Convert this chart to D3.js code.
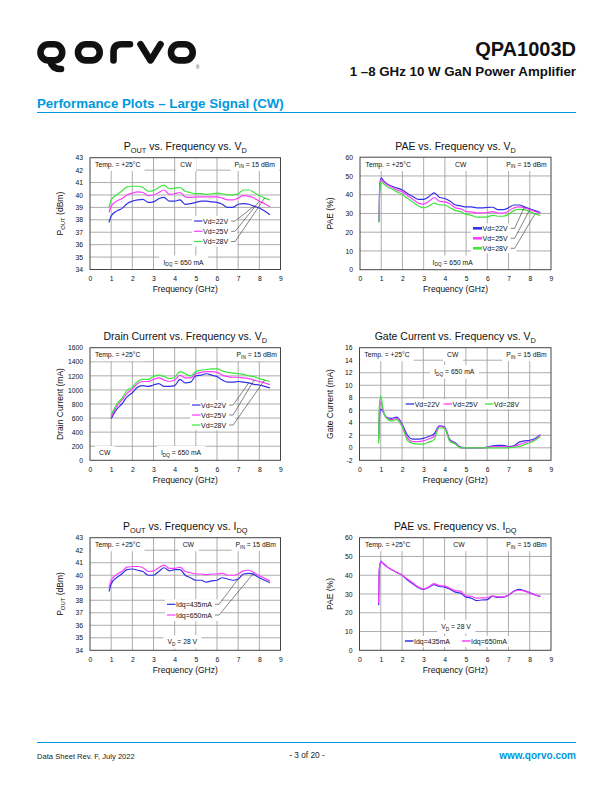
<!DOCTYPE html>
<html><head><meta charset="utf-8">
<script src="https://cdn.jsdelivr.net/npm/d3@7"></script>
<style>body{margin:0;background:#fff}svg{display:block}</style>
</head><body>
<svg id="page" width="612" height="792"></svg>
<script>
// ---------- DATA ----------
const xTicks = [0,1,2,3,4,5,6,7,8,9];
const ticksPout = [34,35,36,37,38,39,40,41,42,43];
const ticksPae = [0,10,20,30,40,50,60];
const ticksDrain = [0,200,400,600,800,1000,1200,1400,1600];
const ticksGate = [-2,0,2,4,6,8,10,12,14,16];

const freqA = [0.9,1.0,1.25,1.5,1.75,2.0,2.25,2.5,2.75,3.0,3.25,3.5,3.75,4.0,4.25,4.5,4.75,5.0,5.25,5.5,5.75,6.0,6.25,6.5,6.75,7.0,7.25,7.5,7.75,8.0,8.25,8.5];
const freqD = [1.0,1.25,1.5,1.75,2.0,2.25,2.5,2.75,3.0,3.25,3.5,3.75,4.0,4.25,4.5,4.75,5.0,5.25,5.5,5.75,6.0,6.25,6.5,6.75,7.0,7.25,7.5,7.75,8.0,8.25,8.5];
const freqB = [0.9,0.93,1.0,1.1,1.25,1.5,1.75,2.0,2.25,2.5,2.75,3.0,3.25,3.5,3.75,4.0,4.25,4.5,4.75,5.0,5.25,5.5,5.75,6.0,6.25,6.5,6.75,7.0,7.25,7.5,7.75,8.0,8.25,8.5];

// Pout vs Vd (dBm)
const poutVd22 = [37.8,38.3,38.7,38.9,39.3,39.5,39.6,39.65,39.4,39.45,39.7,39.8,39.5,39.5,39.6,39.25,39.3,39.4,39.5,39.5,39.45,39.4,39.25,39.0,39.0,39.25,39.3,39.25,39.1,38.95,38.7,38.4];
const poutVd25 = [38.6,39.1,39.5,39.7,40.0,40.15,40.25,40.2,39.95,40.0,40.2,40.4,40.05,40.1,40.2,39.85,39.8,39.85,39.85,39.85,39.85,39.85,39.75,39.6,39.6,39.75,39.95,39.9,39.75,39.5,39.3,39.05];
const poutVd28 = [39.0,39.6,40.0,40.3,40.65,40.7,40.7,40.6,40.3,40.35,40.6,40.8,40.5,40.55,40.6,40.3,40.2,40.1,40.1,40.05,40.1,40.15,40.1,40.0,40.0,40.1,40.4,40.4,40.2,39.95,39.75,39.6];

// PAE vs Vd (%)
const paeVd22 = [26,45,49,47.5,46,44.5,43.5,42.5,40.5,39,37.5,37.5,39,41,38.5,38,36.5,34.5,34,33.5,33.5,33,33,33.2,33.3,32,32,33,34.5,34.5,33.5,32.5,31.5,30.5];
const paeVd25 = [25.5,44,48,47,45.5,44,42.5,41.5,39.5,37.5,35.5,35,36.5,38.5,36.5,36.2,35,33,32.5,31,30.8,30.3,30.3,30.5,31,30.2,30.2,31.2,33,33.5,33,32,31,30];
const paeVd28 = [25,42,47,46,44.5,43,41.5,40,38,36,34,33,34,35.5,34.5,34.5,33,31.5,31,29.5,29,28,28,28.2,29,28.5,28.5,29.5,31.5,32.2,32,31,29.8,29];

// Drain current vs Vd (mA)
const drainVd22 = [590,720,800,900,960,1040,1060,1050,1070,1090,1050,1050,1060,1150,1100,1110,1200,1210,1230,1210,1190,1140,1110,1110,1120,1110,1100,1080,1070,1050,1030];
const drainVd25 = [620,760,850,950,1010,1090,1120,1120,1150,1170,1140,1120,1140,1210,1170,1170,1230,1250,1260,1260,1250,1210,1190,1180,1180,1170,1160,1140,1120,1100,1075];
const drainVd28 = [650,790,880,990,1040,1120,1150,1150,1190,1210,1190,1160,1180,1260,1230,1200,1260,1280,1290,1300,1300,1270,1250,1240,1230,1220,1200,1190,1160,1140,1120];

// Gate current vs Vd (mA)
const gateVd22 = [1.5,4.5,6.2,5.8,4.9,4.7,4.9,3.8,2.0,1.4,1.4,1.5,1.8,2.2,3.5,3.3,1.3,0.8,0.1,0,0,0,0,0.1,0.3,0.4,0.4,0.2,0.3,0.9,1.1,1.2,1.5,2.1];
const gateVd25 = [1.0,5.5,7.4,6.0,4.9,4.5,4.7,3.6,1.6,1.0,1.0,1.1,1.4,1.8,3.4,3.2,1.1,0.7,0,0,0,0,0,0,0.2,0.2,0.2,0.1,0.2,0.5,0.8,1.0,1.3,2.0];
const gateVd28 = [0.7,6.5,8.3,6.3,4.8,4.3,4.5,3.4,1.2,0.7,0.6,0.6,0.9,1.3,3.2,3.1,1.0,0.6,0,0,0,0,0,0,0,0,0,0,0.1,0.2,0.5,0.8,1.2,1.8];

// Pout vs Idq (dBm)
const poutIdq435 = [38.7,39.3,39.8,40.1,40.45,40.5,40.4,40.3,40.0,40.0,40.3,40.6,40.35,40.45,40.45,40.0,39.8,39.6,39.6,39.45,39.55,39.6,39.8,39.7,39.6,39.7,40.1,40.15,40.05,39.8,39.6,39.4];
const poutIdq650 = [39.0,39.6,40.05,40.3,40.65,40.7,40.7,40.6,40.3,40.35,40.6,40.8,40.55,40.55,40.65,40.3,40.2,40.1,40.1,40.05,40.1,40.1,40.15,40.0,40.0,40.1,40.35,40.4,40.2,39.95,39.75,39.55];

// PAE vs Idq (%)
const paeIdq435 = [24,42,47.5,46.5,45,43,41.5,40,37.5,35.5,33.5,32.5,33.5,35,34,33.7,32.5,31,30.5,28.3,27.8,26.5,26.8,27,28.8,28.2,28.3,29.3,31.5,32.5,31.8,30.8,29.5,28.7];
const paeIdq650 = [25,43,47.2,46.3,44.8,43,41.5,40,38,36,33.8,32.7,33.8,35.5,34.5,34.3,33,31.8,31.5,29,28.8,27.8,27.9,28,29,28.5,28.5,29.5,31.3,32,31.5,30.5,29.5,28.8];

const vdNames = ["Vd=22V","Vd=25V","Vd=28V"];
const idqNames = ["Idq=435mA","Idq=650mA"];

// ---------- STYLE ----------
const FONT = '"Liberation Sans", Arial, Helvetica, sans-serif';
const BLUE = "#3232e6", MAG = "#ff3cff", GRN = "#3ce63c";
const QBLUE = "#0099dd";
const GRID = "#a3a3a3";

const svg = d3.select("#page").attr("font-family", FONT);

// rich text with subscripts: parts are strings or [subString]
function rich(t, parts, fs) {
  let shifted = false;
  parts.forEach(p => {
    if (Array.isArray(p)) {
      t.append("tspan").attr("font-size", fs * 0.7).attr("dy", shifted ? 0 : fs * 0.28).text(p[0]);
      shifted = true;
    } else {
      t.append("tspan").attr("dy", shifted ? -fs * 0.28 : 0).text(p);
      shifted = false;
    }
  });
}

// ---------- HEADER ----------
(function header(){
  const lg = svg.append("g").attr("fill","none").attr("stroke","#111").attr("stroke-width",6.6)
    .attr("stroke-linecap","round").attr("stroke-linejoin","round");
  lg.append("rect").attr("x",40.5).attr("y",44.2).attr("width",21.7).attr("height",16.2).attr("rx",8);
  lg.append("path").attr("d","M50,60.4 Q52,69 61,69");
  lg.append("rect").attr("x",78).attr("y",44.2).attr("width",21.7).attr("height",16.2).attr("rx",8);
  lg.append("path").attr("d","M113.5,60.4 V52 Q113.5,44.2 121.5,44.2 H130");
  lg.append("path").attr("d","M140.5,44.2 L150.5,60.4 L160.5,44.2");
  lg.append("rect").attr("x",171).attr("y",44.2).attr("width",21.7).attr("height",16.2).attr("rx",8);
  svg.append("text").attr("x",196).attr("y",69).attr("font-size",4.5).attr("fill","#333").text("®");

  svg.append("text").attr("x",576).attr("y",56).attr("text-anchor","end").attr("font-size",20)
    .attr("font-weight","bold").attr("fill","#111").text("QPA1003D");
  svg.append("text").attr("x",576).attr("y",76).attr("text-anchor","end").attr("font-size",13.3)
    .attr("font-weight","bold").attr("fill","#111").text("1 –8 GHz 10 W GaN Power Amplifier");
  svg.append("text").attr("x",37).attr("y",107.5).attr("font-size",13.3)
    .attr("font-weight","bold").attr("fill",QBLUE).text("Performance Plots – Large Signal (CW)");
  svg.append("line").attr("x1",37).attr("x2",576).attr("y1",112.5).attr("y2",112.5)
    .attr("stroke",QBLUE).attr("stroke-width",1.2);

  // footer
  svg.append("line").attr("x1",37).attr("x2",576).attr("y1",742.5).attr("y2",742.5)
    .attr("stroke",QBLUE).attr("stroke-width",1.2);
  svg.append("text").attr("x",37).attr("y",759).attr("font-size",7.6).attr("fill","#222")
    .text("Data Sheet Rev. F, July 2022");
  svg.append("text").attr("x",307).attr("y",758).attr("text-anchor","middle").attr("font-size",8.3).attr("fill","#222")
    .text("- 3 of 20 -");
  svg.append("text").attr("x",576).attr("y",759).attr("text-anchor","end").attr("font-size",10)
    .attr("font-weight","bold").attr("fill",QBLUE).text("www.qorvo.com");
})();

// ---------- CHARTS ----------
const TEMP = ["Temp. = +25°C"];
const PIN = ["P",["IN"]," = 15 dBm"];
const IDQ = ["I",["DQ"]," = 650 mA"];
const VD28 = ["V",["D"]," = 28 V"];

const charts = [
  { left:90, right:280.5, top:157.7, bottom:269.5, yDomain:[34,43], yTicks:ticksPout,
    title:["P",["OUT"]," vs. Frequency vs. V",["D"]], ylabel:["P",["OUT"]," (dBm)"],
    series:[{x:freqA,y:poutVd22,c:BLUE,name:vdNames[0]},{x:freqA,y:poutVd25,c:MAG,name:vdNames[1]},{x:freqA,y:poutVd28,c:GRN,name:vdNames[2]}],
    notes:[{t:TEMP,x:95,y:166.5,a:"start"},{t:["CW"],x:186,y:166.5,a:"middle"},{t:PIN,x:275,y:166.5,a:"end"},{t:IDQ,x:183.5,y:264.5,a:"middle"}],
    legend:{type:"v",x:194,w:8.5,sw:1.2,rows:[221,231.3,241.5],idx:[28,29,30]} },
  { left:360, right:551, top:157.2, bottom:269.7, yDomain:[0,60], yTicks:ticksPae,
    title:["PAE vs. Frequency vs. V",["D"]], ylabel:["PAE (%)"],
    series:[{x:freqB,y:paeVd22,c:BLUE,name:vdNames[0]},{x:freqB,y:paeVd25,c:MAG,name:vdNames[1]},{x:freqB,y:paeVd28,c:GRN,name:vdNames[2]}],
    notes:[{t:TEMP,x:365.5,y:166.5,a:"start"},{t:["CW"],x:460.7,y:166.5,a:"middle"},{t:PIN,x:546.7,y:166.5,a:"end"},{t:IDQ,x:452.7,y:264.5,a:"middle"}],
    legend:{type:"v",x:473,w:9,sw:2.6,rows:[228.3,238.3,248.3],idx:[30,31,32]} },
  { left:90, right:280.5, top:347.7, bottom:460.3, yDomain:[0,1600], yTicks:ticksDrain,
    title:["Drain Current vs. Frequency vs. V",["D"]], ylabel:["Drain Current (mA)"],
    series:[{x:freqD,y:drainVd22,c:BLUE,name:vdNames[0]},{x:freqD,y:drainVd25,c:MAG,name:vdNames[1]},{x:freqD,y:drainVd28,c:GRN,name:vdNames[2]}],
    notes:[{t:TEMP,x:95,y:356.7,a:"start"},{t:PIN,x:277,y:356.7,a:"end"},{t:["CW"],x:99,y:455,a:"start"},{t:IDQ,x:181,y:455,a:"middle"}],
    legend:{type:"v",x:192,w:8.5,sw:1.2,rows:[405,415,425],idx:[26,27,29]} },
  { left:359.5, right:551, top:347.7, bottom:460.3, yDomain:[-2,16], yTicks:ticksGate,
    title:["Gate Current vs. Frequency vs. V",["D"]], ylabel:["Gate Current (mA)"],
    series:[{x:freqB,y:gateVd22,c:BLUE,name:vdNames[0]},{x:freqB,y:gateVd25,c:MAG,name:vdNames[1]},{x:freqB,y:gateVd28,c:GRN,name:vdNames[2]}],
    notes:[{t:TEMP,x:364.3,y:356.7,a:"start"},{t:["CW"],x:452.7,y:356.7,a:"middle"},{t:PIN,x:546.7,y:356.7,a:"end"},{t:IDQ,x:454.3,y:374,a:"middle"}],
    legend:{type:"h",xs:[405.7,443.5,485],w:8.5,sw:1.3,y:404} },
  { left:90, right:280.5, top:537.7, bottom:650.3, yDomain:[34,43], yTicks:ticksPout,
    title:["P",["OUT"]," vs. Frequency vs. I",["DQ"]], ylabel:["P",["OUT"]," (dBm)"],
    series:[{x:freqA,y:poutIdq435,c:BLUE,name:idqNames[0]},{x:freqA,y:poutIdq650,c:MAG,name:idqNames[1]}],
    notes:[{t:TEMP,x:95,y:546.7,a:"start"},{t:["CW"],x:188.3,y:546.7,a:"middle"},{t:PIN,x:276,y:546.7,a:"end"},{t:VD28,x:182.3,y:644.3,a:"middle"}],
    legend:{type:"v",x:167,w:8.5,sw:1.2,rows:[604.3,615],idx:[25,28]} },
  { left:359.5, right:551, top:537.7, bottom:650.3, yDomain:[0,60], yTicks:ticksPae,
    title:["PAE vs. Frequency vs. I",["DQ"]], ylabel:["PAE (%)"],
    series:[{x:freqB,y:paeIdq435,c:BLUE,name:idqNames[0]},{x:freqB,y:paeIdq650,c:MAG,name:idqNames[1]}],
    notes:[{t:TEMP,x:365,y:546.7,a:"start"},{t:["CW"],x:459,y:546.7,a:"middle"},{t:PIN,x:546.7,y:546.7,a:"end"},{t:VD28,x:456,y:629,a:"middle"}],
    legend:{type:"h",xs:[405,462],w:8.5,sw:1.5,y:641} }
];

function drawChart(c) {
  const g = svg.append("g");
  const x = d3.scaleLinear().domain([0,9]).range([c.left,c.right]);
  const y = d3.scaleLinear().domain(c.yDomain).range([c.bottom,c.top]);
  const FS = 6.8;

  g.append("rect").attr("x",c.left).attr("y",c.top).attr("width",c.right-c.left).attr("height",c.bottom-c.top).attr("fill","#fff");
  g.append("g").selectAll("line").data(xTicks.slice(1,-1)).join("line")
    .attr("x1",d=>x(d)).attr("x2",d=>x(d)).attr("y1",c.top).attr("y2",c.bottom)
    .attr("stroke",GRID).attr("stroke-width",0.9);
  g.append("g").selectAll("line").data(c.yTicks.slice(1,-1)).join("line")
    .attr("y1",d=>y(d)).attr("y2",d=>y(d)).attr("x1",c.left).attr("x2",c.right)
    .attr("stroke",GRID).attr("stroke-width",0.9);

  const ax = g.append("g").attr("transform",`translate(0,${c.bottom})`)
    .call(d3.axisBottom(x).tickValues(xTicks).tickSize(0).tickPadding(6.5).tickFormat(d=>String(d)));
  ax.select(".domain").remove();
  ax.attr("font-family",FONT).attr("font-size",FS);
  ax.selectAll("text").attr("fill","#111");
  const ay = g.append("g").attr("transform",`translate(${c.left},0)`)
    .call(d3.axisLeft(y).tickValues(c.yTicks).tickSize(0).tickPadding(7).tickFormat(d=>String(d)));
  ay.select(".domain").remove();
  ay.attr("font-family",FONT).attr("font-size",FS);
  ay.selectAll("text").attr("fill","#111");

  // annotation texts with white boxes
  c.notes.forEach(n => {
    const t = g.append("text").attr("x",n.x).attr("y",n.y).attr("text-anchor",n.a).attr("font-size",FS).attr("fill","#111");
    rich(t,n.t,FS);
    const b = t.node().getBBox();
    g.insert("rect",()=>t.node()).attr("x",b.x-4).attr("y",n.y-9).attr("width",b.width+8).attr("height",13.5).attr("fill","#fff");
  });

  const line = d3.line().x(d=>x(d[0])).y(d=>y(d[1])).curve(d3.curveMonotoneX);
  c.series.forEach(s => {
    g.append("path").datum(d3.zip(s.x,s.y)).attr("d",line).attr("fill","none")
      .attr("stroke",s.c).attr("stroke-width",1.2).attr("stroke-linejoin","round");
  });

  const L = c.legend;
  if (L.type === "v") {
    const lg = g.append("g");
    const ends = [];
    c.series.forEach((s,i) => {
      const yy = L.rows[i];
      lg.append("line").attr("x1",L.x).attr("x2",L.x+L.w).attr("y1",yy).attr("y2",yy).attr("stroke",s.c).attr("stroke-width",L.sw);
      const t = lg.append("text").attr("x",L.x+L.w+0.5).attr("y",yy+2.5).attr("font-size",7).attr("fill","#111").text(s.name);
      ends.push(L.x+L.w+0.5+t.node().getComputedTextLength());
    });
    const b = lg.node().getBBox();
    const maxEnd = d3.max(ends);
    g.insert("rect",()=>lg.node()).attr("x",b.x-2).attr("y",b.y-1.5).attr("width",maxEnd+9-(b.x-2)).attr("height",b.height+3).attr("fill","#fff");
    c.series.forEach((s,i) => {
      const yy = L.rows[i], x0 = ends[i]+3, k = L.idx[i];
      g.append("path").attr("d",`M${x0},${yy}H${x0+4}L${x(s.x[k])},${y(s.y[k])}`)
        .attr("fill","none").attr("stroke","#333").attr("stroke-width",0.6);
    });
  } else {
    c.series.forEach((s,i) => {
      const lg = g.append("g");
      lg.append("line").attr("x1",L.xs[i]).attr("x2",L.xs[i]+L.w).attr("y1",L.y).attr("y2",L.y).attr("stroke",s.c).attr("stroke-width",L.sw);
      lg.append("text").attr("x",L.xs[i]+L.w+0.5).attr("y",L.y+2.5).attr("font-size",7).attr("fill","#111").text(s.name);
      const b = lg.node().getBBox();
      g.insert("rect",()=>lg.node()).attr("x",b.x-1.5).attr("y",b.y-1.5).attr("width",b.width+3).attr("height",b.height+3).attr("fill","#fff");
    });
  }

  g.append("rect").attr("x",c.left).attr("y",c.top).attr("width",c.right-c.left).attr("height",c.bottom-c.top)
    .attr("fill","none").attr("stroke","#444").attr("stroke-width",1);

  const mid = (c.left+c.right)/2;
  const tt = g.append("text").attr("x",mid).attr("y",c.top-7.5).attr("text-anchor","middle").attr("font-size",10.5).attr("fill","#111");
  rich(tt,c.title,10.5);
  g.append("text").attr("x",mid).attr("y",c.bottom+22.5).attr("text-anchor","middle").attr("font-size",8.5).attr("fill","#111").text("Frequency (GHz)");
  const yt = g.append("text").attr("transform",`translate(${c.left-27},${(c.top+c.bottom)/2}) rotate(-90)`)
    .attr("text-anchor","middle").attr("font-size",8.5).attr("fill","#111");
  rich(yt,c.ylabel,8.5);
}

charts.forEach(drawChart);
</script>
</body></html>
